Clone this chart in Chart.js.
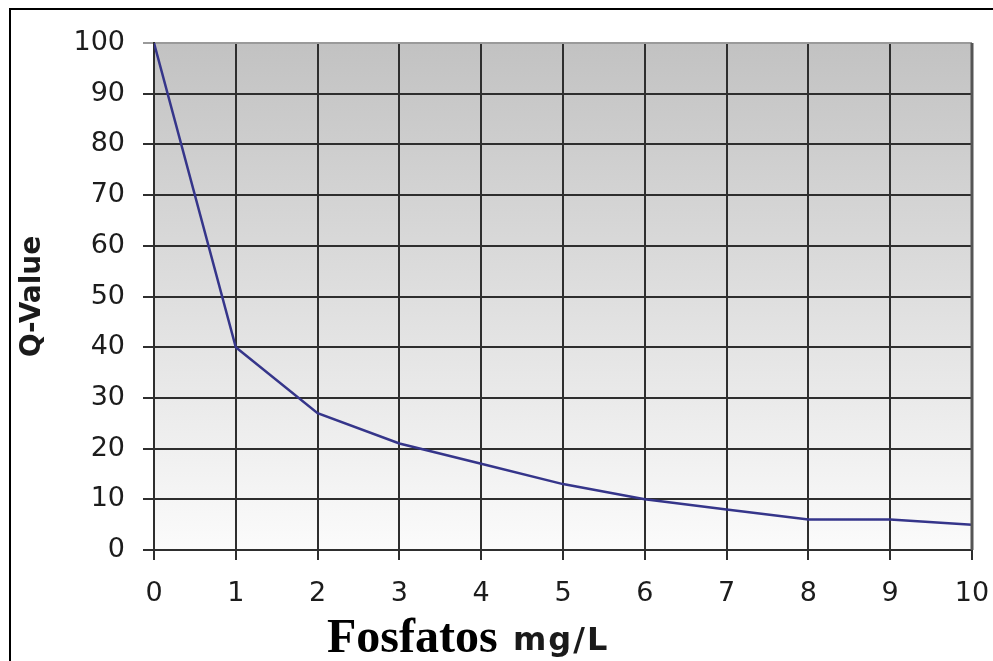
<!DOCTYPE html>
<html>
<head>
<meta charset="utf-8">
<script src="https://cdn.jsdelivr.net/npm/chart.js@4.4.1/dist/chart.umd.min.js"></script>
<style>
  html, body { margin: 0; padding: 0; background: #fff; }
  #wrap { position: relative; width: 993px; height: 661px; }
  #frame { position: absolute; left: 9px; top: 8px; right: 0; bottom: 0;
           border-top: 2px solid #000; border-left: 2px solid #000; pointer-events: none; }
  canvas { position: absolute; left: 0; top: 0; }
</style>
</head>
<body>
<div id="wrap">
  <canvas id="qChart" width="993" height="661"></canvas>
  <div id="frame"></div>
</div>
<script>
// Fosfatos (mg/L) vs Q-Value
const phosphate = [0, 1, 2, 3, 4, 5, 6, 7, 8, 9, 10];
const qValues = [100, 40, 27, 21, 17, 13, 10, 8, 6, 6, 5];
const yRange = [0, 100];
const xRange = [0, 10];
const xTitleMain = 'Fosfatos';
const xTitleUnit = 'mg/L';

const gridColor = '#2e2e2e';
const lineColor = '#35358a';
const tickColor = '#1c1c1c';

// plot background gradient + right edge + x title
const plotBackground = {
  id: 'plotBackground',
  beforeDraw(chart) {
    const { ctx, chartArea: a } = chart;
    const g = ctx.createLinearGradient(0, a.top, 0, a.bottom);
    g.addColorStop(0, '#c2c2c2');
    g.addColorStop(1, '#fbfbfb');
    ctx.save();
    ctx.fillStyle = g;
    ctx.fillRect(a.left, a.top, a.right - a.left, a.bottom - a.top);
    ctx.restore();
  },
  afterDraw(chart) {
    const { ctx, chartArea: a } = chart;
    ctx.save();
    ctx.strokeStyle = '#555';
    ctx.lineWidth = 3;
    ctx.beginPath();
    ctx.moveTo(a.right, a.top);
    ctx.lineTo(a.right, a.bottom);
    ctx.stroke();

    ctx.fillStyle = '#000';
    ctx.textBaseline = 'alphabetic';
    ctx.font = "bold 48px 'Liberation Serif', serif";
    ctx.fillText(xTitleMain, 327, 652);
    ctx.font = "bold 32px 'DejaVu Sans', sans-serif";
    ctx.fillStyle = '#1a1a1a';
    if ('letterSpacing' in ctx) ctx.letterSpacing = '2px';
    ctx.fillText(xTitleUnit, 513, 650);
    ctx.restore();
  }
};

new Chart(document.getElementById('qChart'), {
  type: 'line',
  data: {
    datasets: [{
      data: phosphate.map((x, i) => ({ x, y: qValues[i] })),
      borderColor: lineColor,
      borderWidth: 2.5,
      pointRadius: 0,
      tension: 0,
      fill: false
    }]
  },
  options: {
    responsive: false,
    animation: false,
    layout: { padding: { left: 0, top: 43, right: 0, bottom: 0 } },
    plugins: { legend: { display: false }, tooltip: { enabled: false } },
    scales: {
      x: {
        type: 'linear',
        min: xRange[0],
        max: xRange[1],
        afterFit: s => { s.height = 111; s.paddingLeft = 0; s.paddingRight = 21; },
        border: { color: gridColor, width: 2 },
        grid: { color: gridColor, lineWidth: 2, tickLength: 10 },
        ticks: {
          stepSize: 1,
          color: tickColor,
          padding: 18,
          maxRotation: 0,
          font: { family: "'DejaVu Sans', sans-serif", size: 27 }
        }
      },
      y: {
        min: yRange[0],
        max: yRange[1],
        afterFit: s => { s.width = 154; s.paddingTop = 0; s.paddingBottom = 0; },
        border: { color: gridColor, width: 2 },
        grid: {
          color: c => (c.tick && c.tick.value === 100 ? '#9a9a9a' : gridColor),
          lineWidth: 2,
          tickLength: 11
        },
        ticks: {
          stepSize: 10,
          color: tickColor,
          padding: 18,
          font: { family: "'DejaVu Sans', sans-serif", size: 27 }
        },
        title: {
          display: true,
          text: 'Q-Value',
          color: '#1a1a1a',
          padding: { top: 16, bottom: 0 },
          font: { family: "'DejaVu Sans', sans-serif", size: 28, weight: 'bold' }
        }
      }
    }
  },
  plugins: [plotBackground]
});
</script>
</body>
</html>
